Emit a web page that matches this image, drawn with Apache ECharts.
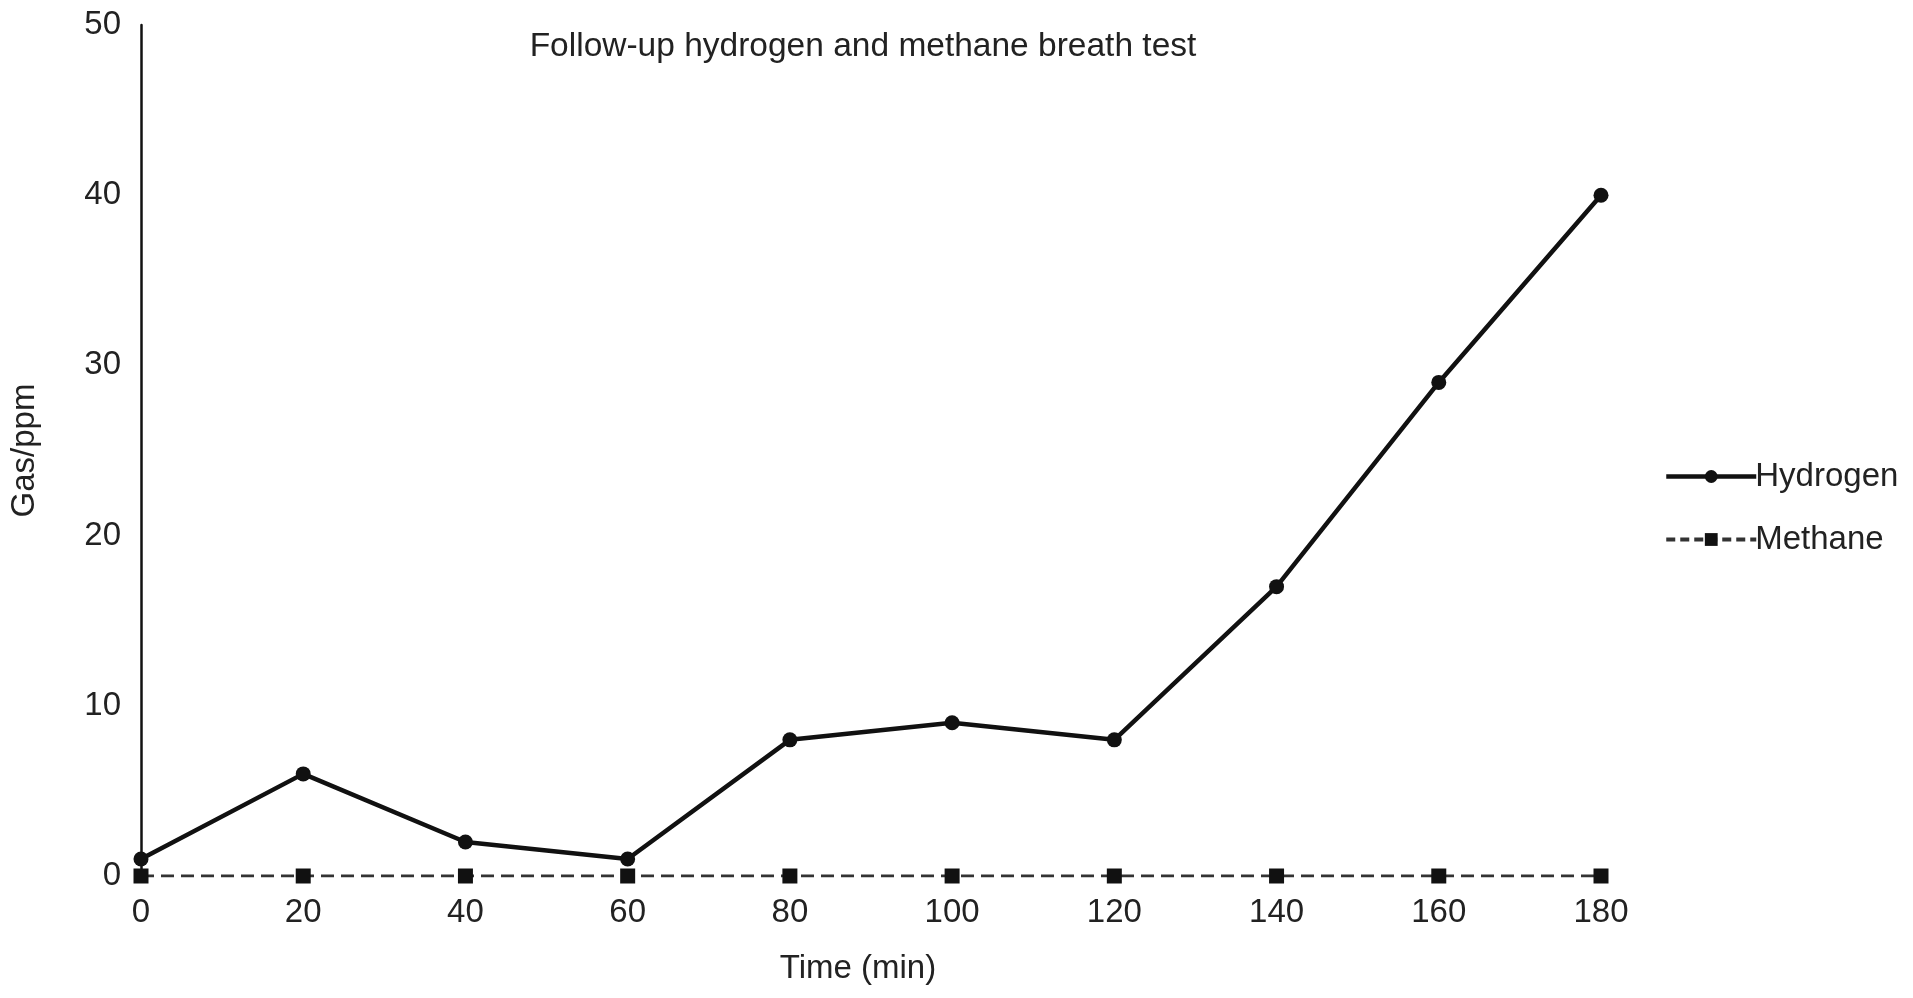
<!DOCTYPE html>
<html><head><meta charset="utf-8">
<script src="https://cdn.jsdelivr.net/npm/echarts@6/dist/echarts.min.js"></script>
<style>html,body{margin:0;padding:0;background:#fff}#c{width:1913px;height:998px}</style>
</head><body><div id="c"></div>
<script>
const times = [0, 20, 40, 60, 80, 100, 120, 140, 160, 180];
const hydrogen = [1, 6, 2, 1, 8, 9, 8, 17, 29, 40];
const methane = [0, 0, 0, 0, 0, 0, 0, 0, 0, 0];
const titleText = 'Follow-up hydrogen and methane breath test';
const font = 'Liberation Sans';
const fs = 33;
const chart = echarts.init(document.getElementById('c'));
chart.setOption({
  backgroundColor: '#fff',
  animation: false,
  textStyle: { fontFamily: font },
  title: { text: titleText, left: 858, top: 25, textAlign: 'center',
    textStyle: { fontFamily: font, fontSize: 33.5, fontWeight: 'normal', color: '#222' } },
  legend: {
    orient: 'vertical', left: 1659, top: 455, itemGap: 30, itemWidth: 90, itemHeight: 16,
    textStyle: { fontFamily: font, fontSize: fs, color: '#222', padding: [0,0,0,-6] },
    data: [
      { name: 'Hydrogen', lineStyle: { width: 4.5 } },
      { name: 'Methane', lineStyle: { width: 4, type: [9, 5] } }
    ]
  },
  grid: { left: 141, right: 312, top: 25, bottom: 122, containLabel: false },
  xAxis: {
    type: 'value', min: 0, max: 180, interval: 20,
    name: 'Time (min)', nameLocation: 'middle', nameGap: 76,
    nameTextStyle: { fontFamily: font, fontSize: fs, color: '#222', padding: [0, 26, 0, 0] },
    axisLine: { show: false }, axisTick: { show: false }, splitLine: { show: false },
    axisLabel: { fontFamily: font, fontSize: fs, color: '#222', margin: 20 }
  },
  yAxis: {
    type: 'value', min: 0, max: 50, interval: 10,
    name: 'Gas/ppm', nameLocation: 'middle', nameGap: 100, nameRotate: 90,
    nameTextStyle: { fontFamily: font, fontSize: fs, color: '#222' },
    axisLine: { show: true, lineStyle: { color: '#111', width: 2.5 } },
    axisTick: { show: false }, splitLine: { show: false },
    axisLabel: { fontFamily: font, fontSize: fs, color: '#222', margin: 20 }
  },
  series: [
    { name: 'Hydrogen', type: 'line', data: times.map((t, i) => [t, hydrogen[i]]),
      symbol: 'circle', symbolSize: 15, z: 3,
      lineStyle: { color: '#111', width: 4.5 }, itemStyle: { color: '#111' } },
    { name: 'Methane', type: 'line', data: times.map((t, i) => [t, methane[i]]),
      symbol: 'rect', symbolSize: 15, z: 2,
      lineStyle: { color: '#333', width: 3, type: [13, 7] }, itemStyle: { color: '#111' } }
  ]
});
</script></body></html>
